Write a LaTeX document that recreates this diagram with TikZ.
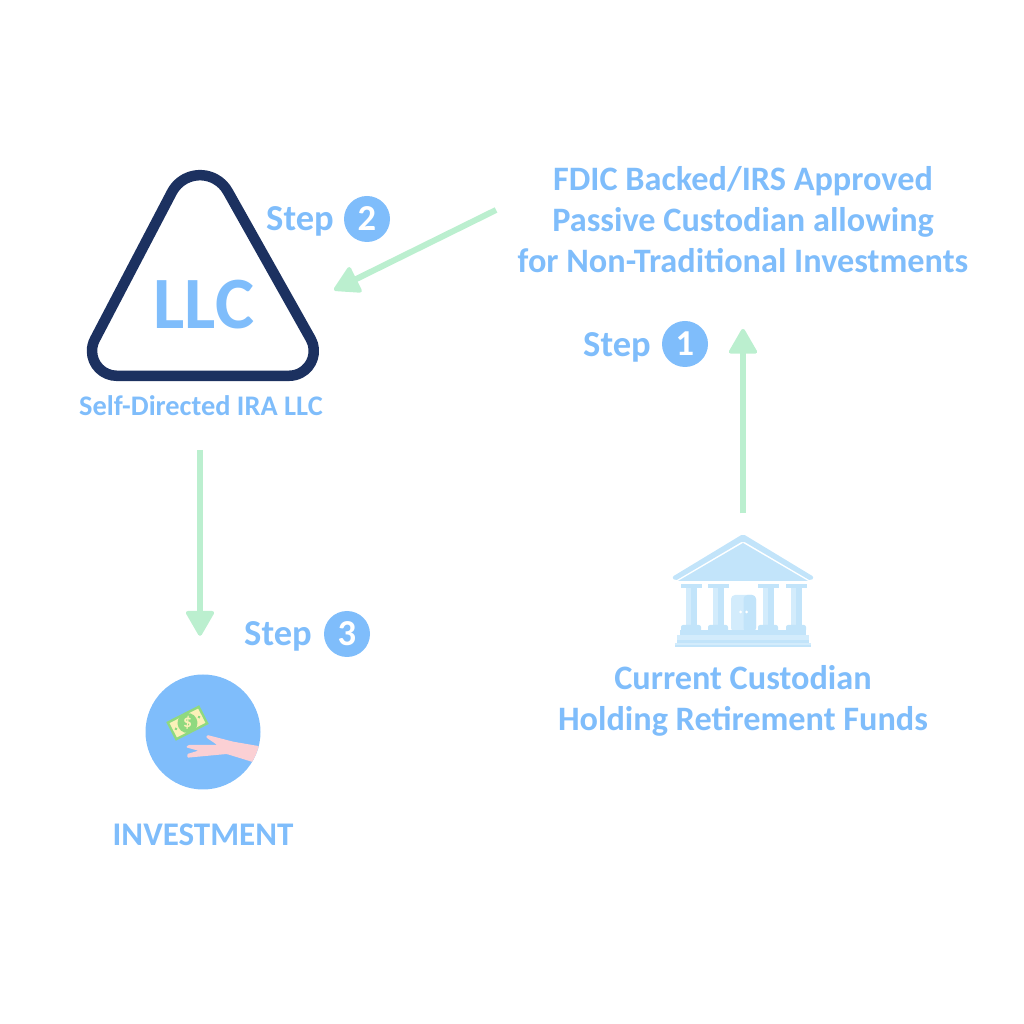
\documentclass[tikz,border=0pt]{standalone}
\usepackage{fontspec}
\setmainfont{Carlito}
\usetikzlibrary{arrows.meta}
\definecolor{skyblue}{HTML}{7FBDFB}
\definecolor{navy}{HTML}{1C3160}
\definecolor{mint}{HTML}{BBEFCF}
\definecolor{bankblue}{HTML}{C2E4FA}
\definecolor{banklight}{HTML}{D3ECFC}
\definecolor{skin}{HTML}{FBD0D4}
\definecolor{billgreen}{HTML}{8FD97F}
\definecolor{billcream}{HTML}{FBF1B8}
\tikzset{
    label text/.style={text=skyblue, font=\fontsize{9.75}{11.67}\selectfont\bfseries, align=center, inner sep=0pt},
    step text/.style={label text, font=\fontsize{10.4}{12}\selectfont\bfseries},
    step badge/.style={circle, fill=skyblue, text=white, inner sep=0pt, minimum size=.46cm, font=\fontsize{10.4}{12}\selectfont\bfseries},
    flow/.style={draw=mint, line width=.06cm, -{Triangle[length=.27cm,width=.3cm,line width=.04cm,round]}},
}
\begin{document}
\begin{tikzpicture}
    \useasboundingbox (0, 0) rectangle (10.24, 10.24);

    % triangle with the company name
    \draw [navy, line width=.105cm, line join=round]
        (1.168, 6.482) arc[start angle=270, end angle=151.9, radius=.248]
        --(1.72, 8.32) arc[start angle=151.9, end angle=28.1, radius=.318]
        --(3.109, 6.847) arc[start angle=28.1, end angle=-90, radius=.248]
        --cycle;
    \node[label text, font=\fontsize{21}{24}\selectfont\bfseries](llc) at (2.04, 7.19) {LLC};
    \node[label text, font=\fontsize{8.07}{10}\selectfont\bfseries](sdira) at (2.01, 6.18) {Self-Directed IRA LLC};

    % custodian texts
    \node[label text](fdic) at (7.43, 8.04) {FDIC Backed/IRS Approved\\Passive Custodian allowing\\for Non-Traditional Investments};
    \node[label text](current) at (7.43, 3.23) {Current Custodian\\Holding Retirement Funds};

    % bank building
    \node[minimum width=1.42cm, minimum height=1.13cm, inner sep=0pt](bank) at (7.43, 4.335) {};
    \fill [bankblue, rounded corners=.02cm] (6.72, 4.47)--(7.43, 4.9)--(8.14, 4.47)--(8.11, 4.43)--(7.43, 4.83)--(6.75, 4.43)--cycle;
    \fill [bankblue] (6.78, 4.43)--(7.43, 4.81)--(8.08, 4.43)--cycle;
    \foreach \px in {6.91, 7.18, 7.68, 7.96} {
        \fill [bankblue] (\px-.105, 4.40) rectangle (\px+.105, 4.36);
        \fill [banklight] (\px-.055, 4.36) rectangle (\px+.055, 3.99);
        \fill [bankblue] (\px, 4.36) rectangle (\px+.055, 3.99);
        \fill [bankblue, rounded corners=.02cm] (\px-.1, 3.92) rectangle (\px+.1, 3.99);
    }
    \fill [banklight, rounded corners=.04cm] (7.31, 3.92)--(7.31, 4.29)--(7.56, 4.29)--(7.56, 3.92)--cycle;
    \fill [bankblue, rounded corners=.04cm] (7.435, 3.92)--(7.435, 4.29)--(7.56, 4.29)--(7.56, 3.92)--cycle;
    \fill [white] (7.405, 4.12) circle (.015);
    \fill [white] (7.465, 4.12) circle (.015);
    \fill [bankblue] (6.8, 3.94) rectangle (8.06, 3.89);
    \fill [banklight] (6.77, 3.89) rectangle (8.09, 3.84);
    \fill [bankblue] (6.77, 3.84) rectangle (8.09, 3.81);
    \fill [banklight] (6.75, 3.81) rectangle (8.11, 3.79);
    \fill [bankblue] (6.75, 3.79) rectangle (8.11, 3.77);

    % investment picture
    \node[circle, fill=skyblue, minimum size=1.15cm, inner sep=0pt](invest) at (2.03, 2.92) {};
    \begin{scope}[shift={(1.875, 3.01)}, rotate=27]
        \fill [billgreen] (-.185, -.105) rectangle (.185, .105);
        \fill [billcream] (-.16, -.08) rectangle (.16, .08);
        \fill [billgreen] (0, 0) circle (.1);
        \fill [billgreen] (-.13, 0) circle (.015);
        \fill [billgreen] (.13, 0) circle (.015);
        \node[text=billcream, font=\fontsize{5}{5}\selectfont\bfseries, inner sep=0pt](dollar) at (0, 0) {\$};
    \end{scope}
    \begin{scope}
        \clip (2.03, 2.92) circle (.575);
        \fill [skin, rounded corners=.01cm] (2.583, 2.78)--(2.333, 2.823)--(2.073, 2.89)--(2.06, 2.867)--(2.173, 2.79)--(1.883, 2.79)--(1.86, 2.767)--(1.983, 2.733)--(1.873, 2.70)--(1.873, 2.663)--(2.267, 2.70)--(2.517, 2.623)--(2.7, 2.56)--(2.7, 2.76)--cycle;
    \end{scope}
    \node[label text, font=\fontsize{9.4}{11}\selectfont\bfseries](investment) at (2.03, 1.89) {INVESTMENT};

    % step labels
    \node[step text](stepone) at (6.17, 6.77) {Step};
    \node[step badge](one) at (6.85, 6.8) {1};
    \node[step text](steptwo) at (3.0, 8.03) {Step};
    \node[step badge](two) at (3.67, 8.05) {2};
    \node[step text](stepthree) at (2.78, 3.88) {Step};
    \node[step badge](three) at (3.47, 3.9) {3};

    % arrows
    \draw [flow, shorten <=.2cm, shorten >=.55cm] (bank.north)--(fdic.south);
    \draw [flow] ([xshift=-.21cm, yshift=.1cm]fdic.west)--([xshift=.79cm, yshift=.15cm]llc.east);
    \draw [flow, shorten <=.33cm, shorten >=.38cm] ([xshift=-.01cm]sdira.south)--([xshift=-.03cm]invest.north);
\end{tikzpicture}
\end{document}
